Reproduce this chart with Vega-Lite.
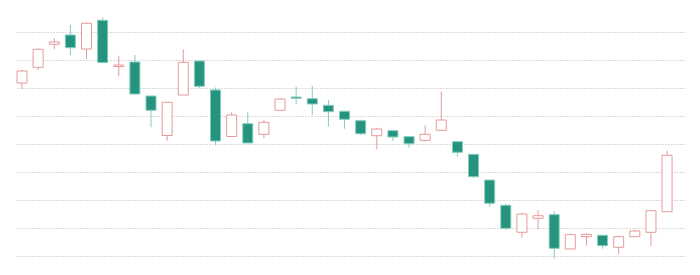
{
  "$schema": "https://vega.github.io/schema/vega-lite/v6.json",
  "width": 700,
  "height": 275,
  "autosize": {"type": "fit", "contains": "padding"},
  "padding": {"left": 16, "right": 16, "top": 0, "bottom": 0},
  "background": "#ffffff",
  "config": {"view": {"stroke": null}},
  "data": {"values": [
    {"i": 0, "open": 161.79, "close": 166.07, "high": 166.43, "low": 159.75, "dir": "up"},
    {"i": 1, "open": 167.39, "close": 173.82, "high": 174.18, "low": 166.43, "dir": "up"},
    {"i": 2, "open": 175.61, "close": 176.43, "high": 177.75, "low": 173.82, "dir": "up"},
    {"i": 3, "open": 178.93, "close": 174.39, "high": 182.5, "low": 171.79, "dir": "down"},
    {"i": 4, "open": 173.93, "close": 183.11, "high": 183.39, "low": 170.36, "dir": "up"},
    {"i": 5, "open": 184.18, "close": 169.11, "high": 185.25, "low": 168.82, "dir": "down"},
    {"i": 6, "open": 167.68, "close": 168.21, "high": 171.43, "low": 164.18, "dir": "up"},
    {"i": 7, "open": 169.29, "close": 157.86, "high": 171.79, "low": 157.75, "dir": "down"},
    {"i": 8, "open": 157.14, "close": 152.04, "high": 157.14, "low": 145.96, "dir": "down"},
    {"i": 9, "open": 143.04, "close": 154.89, "high": 155.0, "low": 141.18, "dir": "up"},
    {"i": 10, "open": 157.5, "close": 169.18, "high": 173.82, "low": 157.5, "dir": "up"},
    {"i": 11, "open": 169.64, "close": 160.61, "high": 169.64, "low": 160.0, "dir": "down"},
    {"i": 12, "open": 159.29, "close": 141.07, "high": 160.18, "low": 139.54, "dir": "down"},
    {"i": 13, "open": 142.68, "close": 150.36, "high": 151.32, "low": 142.68, "dir": "up"},
    {"i": 14, "open": 147.25, "close": 140.36, "high": 151.32, "low": 140.36, "dir": "down"},
    {"i": 15, "open": 143.46, "close": 147.75, "high": 148.68, "low": 142.14, "dir": "up"},
    {"i": 16, "open": 152.04, "close": 156.07, "high": 156.32, "low": 152.04, "dir": "up"},
    {"i": 17, "open": 156.79, "close": 156.32, "high": 160.46, "low": 154.18, "dir": "down"},
    {"i": 18, "open": 156.18, "close": 154.29, "high": 160.71, "low": 150.36, "dir": "down"},
    {"i": 19, "open": 153.82, "close": 151.54, "high": 155.71, "low": 146.18, "dir": "down"},
    {"i": 20, "open": 151.68, "close": 148.82, "high": 151.68, "low": 145.46, "dir": "down"},
    {"i": 21, "open": 148.32, "close": 143.68, "high": 148.68, "low": 143.21, "dir": "down"},
    {"i": 22, "open": 142.96, "close": 145.36, "high": 145.82, "low": 138.11, "dir": "up"},
    {"i": 23, "open": 144.75, "close": 142.5, "high": 144.75, "low": 141.07, "dir": "down"},
    {"i": 24, "open": 142.61, "close": 140.11, "high": 142.61, "low": 138.68, "dir": "down"},
    {"i": 25, "open": 141.32, "close": 143.46, "high": 146.68, "low": 140.82, "dir": "up"},
    {"i": 26, "open": 144.89, "close": 148.57, "high": 158.68, "low": 144.89, "dir": "up"},
    {"i": 27, "open": 140.82, "close": 137.04, "high": 140.82, "low": 135.46, "dir": "down"},
    {"i": 28, "open": 136.32, "close": 128.32, "high": 136.32, "low": 128.04, "dir": "down"},
    {"i": 29, "open": 127.14, "close": 118.82, "high": 127.14, "low": 117.61, "dir": "down"},
    {"i": 30, "open": 118.11, "close": 109.89, "high": 118.57, "low": 109.29, "dir": "down"},
    {"i": 31, "open": 108.46, "close": 115.0, "high": 115.46, "low": 106.54, "dir": "up"},
    {"i": 32, "open": 113.46, "close": 114.39, "high": 116.32, "low": 109.54, "dir": "up"},
    {"i": 33, "open": 114.75, "close": 102.75, "high": 116.07, "low": 98.93, "dir": "down"},
    {"i": 34, "open": 102.5, "close": 107.61, "high": 107.96, "low": 102.5, "dir": "up"},
    {"i": 35, "open": 106.89, "close": 107.75, "high": 108.11, "low": 103.68, "dir": "up"},
    {"i": 36, "open": 107.39, "close": 103.68, "high": 107.39, "low": 102.61, "dir": "down"},
    {"i": 37, "open": 103.11, "close": 106.89, "high": 107.25, "low": 100.61, "dir": "up"},
    {"i": 38, "open": 106.89, "close": 108.93, "high": 109.39, "low": 106.89, "dir": "up"},
    {"i": 39, "open": 108.46, "close": 116.18, "high": 116.43, "low": 103.57, "dir": "up"},
    {"i": 40, "open": 115.82, "close": 135.96, "high": 137.5, "low": 115.82, "dir": "up"}
  ]},
  "encoding": {
    "x": {"field": "i", "type": "quantitative", "scale": {"domain": [-0.31, 41.05], "nice": false, "zero": false, "padding": 0}, "axis": null}
  },
  "layer": [
    {
      "mark": {"type": "rule", "strokeWidth": 1},
      "encoding": {
        "y": {"field": "low", "type": "quantitative", "scale": {"domain": [93.21, 191.43], "nice": false, "zero": false, "padding": 0},
          "axis": {"values": [100, 110, 120, 130, 140, 150, 160, 170, 180], "tickCount": 9, "labels": false, "labelOverlap": false, "ticks": false, "domain": false, "title": null, "grid": true, "gridColor": "#b4b4b4", "gridDash": [1, 2], "gridWidth": 1}},
        "y2": {"field": "high"},
        "stroke": {"field": "dir", "type": "nominal", "scale": {"domain": ["up", "down"], "range": ["#e49a9a", "#86cbbd"]}, "legend": null}
      }
    },
    {
      "mark": {"type": "bar", "width": 10, "strokeWidth": 1},
      "encoding": {
        "y": {"field": "open", "type": "quantitative"},
        "y2": {"field": "close"},
        "fill": {"field": "dir", "type": "nominal", "scale": {"domain": ["up", "down"], "range": ["#ffffff", "#24947e"]}, "legend": null},
        "stroke": {"field": "dir", "type": "nominal", "scale": {"domain": ["up", "down"], "range": ["#df7b7b", "#6cc2b1"]}, "legend": null}
      }
    }
  ]
}
